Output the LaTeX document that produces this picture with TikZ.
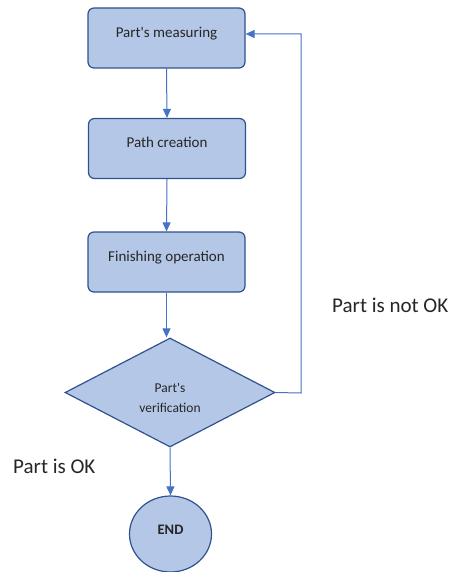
\documentclass[tikz,border=0pt]{standalone}
\usepackage{fontspec}
\setmainfont{Carlito}
\usetikzlibrary{shapes.geometric,arrows.meta}
\definecolor{boxfill}{HTML}{B4C7E7}
\definecolor{boxline}{HTML}{2F528F}
\definecolor{arr}{HTML}{4472C4}
\tikzset{
  stepbox/.style={draw=boxline, fill=boxfill, line width=1.2pt, rounded corners=6pt, minimum width=157pt, minimum height=60pt, font=\fontsize{15}{17}\selectfont, text=black!85, anchor=center},
  decbox/.style={draw=boxline, fill=boxfill, line width=1.2pt, diamond, minimum width=210pt, minimum height=109pt, inner sep=0pt},
  dectext/.style={font=\fontsize{13.5}{20}\selectfont, text=black!85, inner sep=0pt},
  endbox/.style={draw=boxline, fill=boxfill, line width=1.2pt, ellipse, minimum width=82pt, minimum height=76pt, font=\bfseries\fontsize{14.5}{16}\selectfont, text=black!85},
  conn/.style={draw=arr, line width=1pt, -{Triangle[length=9pt,width=8pt]}},
  lbl/.style={font=\fontsize{21}{24}\selectfont, text=black!85, inner sep=0pt}
}
\begin{document}
\begin{tikzpicture}[x=1pt,y=-1pt]
\useasboundingbox (0,0) rectangle (448,572);
\node[stepbox] (m) at (166.5,38) {\raisebox{12pt}{Part\textquotesingle s measuring}};
\node[stepbox] (p) at (167,148.5) {\raisebox{12pt}{Path creation}};
\node[stepbox] (f) at (166.5,262) {\raisebox{12pt}{Finishing operation}};
\node[decbox] (v) at (170,392.5) {};
\node[dectext] (vt) at (170,398) {\begin{tabular}{@{}c@{}}Part\textquotesingle s\\verification\end{tabular}};
\node[endbox] (e) at (170.5,534) {\raisebox{8pt}{END}};
\coordinate (c1) at (301,393);
\coordinate (c2) at (301,34);
\draw[conn] (m.south) -- (p.north);
\draw[conn] (p.south) -- (f.north);
\draw[conn] (f.south) -- (v.north -| f.south);
\draw[conn] (v.south) -- (e.north);
\draw[conn] (v.east) -- (c1) -- (c2) -- (m.east |- c2);
\node[lbl, anchor=west] (nok) at (332,305) {Part is not OK};
\node[lbl, anchor=west] (ok) at (13,466) {Part is OK};
\end{tikzpicture}
\end{document}
